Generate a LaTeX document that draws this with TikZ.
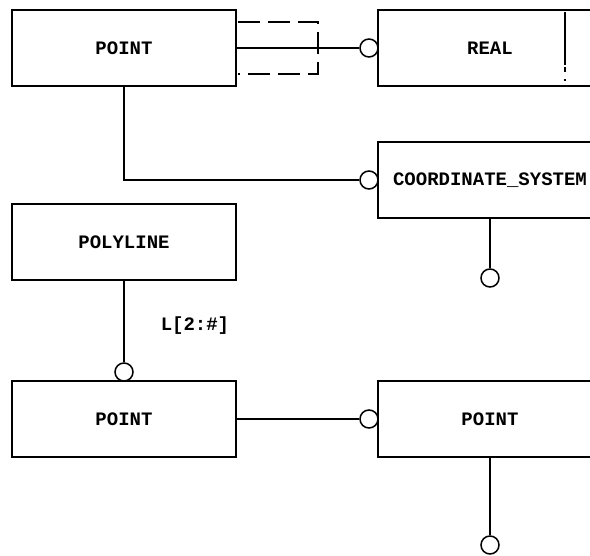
\documentclass[tikz,border=0pt]{standalone}
\usepackage{fontspec}
\setmonofont{Liberation Mono}
\begin{document}
\begin{tikzpicture}[x=1pt,y=-1pt, line width=1.5pt,
  box/.style={draw, minimum width=224pt, minimum height=76pt, inner sep=0pt, font=\ttfamily\bfseries\fontsize{19}{22}\selectfont},
  ball/.style={draw, circle, minimum size=18pt, inner sep=0pt},
  lbl/.style={inner sep=0pt, font=\ttfamily\bfseries\fontsize{19}{22}\selectfont},
  bracket/.style={dash pattern=on 22pt off 8pt},
  divider/.style={dash pattern=on 53pt off 2pt on 5pt off 7pt on 2pt off 20pt}]
\useasboundingbox (0,0) rectangle (590,556);
\clip (0,0) rectangle (590,556);
% boxes
\node[box] (p1) at (124,48) {POINT};
\node[box] (real) at (490,48) {REAL};
\node[box] (cs) at (490,180) {COORDINATE\_SYSTEM};
\node[box] (poly) at (124,242) {POLYLINE};
\node[box] (p2) at (124,419) {POINT};
\node[box] (p3) at (490,419) {POINT};
% circles
\node[ball] (c1) at (369,48) {};
\node[ball] (c2) at (369,180) {};
\node[ball] (c3) at (490,278) {};
\node[ball] (c4) at (124,372) {};
\node[ball] (c5) at (369,419) {};
\node[ball] (c6) at (490,545) {};
% connectors
\draw (p1.east) -- (c1.west);
\draw (p1.south) |- (c2.west);
\draw (cs.south) -- (c3.north);
\draw (poly.south) -- (c4.north);
\draw (p2.east) -- (c5.west);
\draw (p3.south) -- (c6.north);
% dashed bracket
\coordinate (bt) at (238,22);
\coordinate (bb) at (238,74);
\draw[bracket] (bt) -- (318,22) -- (318,74) -- (bb);
% divider in REAL
\coordinate (dt) at (565,12);
\coordinate (db) at (565,84);
\draw[divider] (dt) -- (db);
% label
\node[lbl, anchor=west] (lab) at (160,326) {L[2:\#]};
\end{tikzpicture}
\end{document}
